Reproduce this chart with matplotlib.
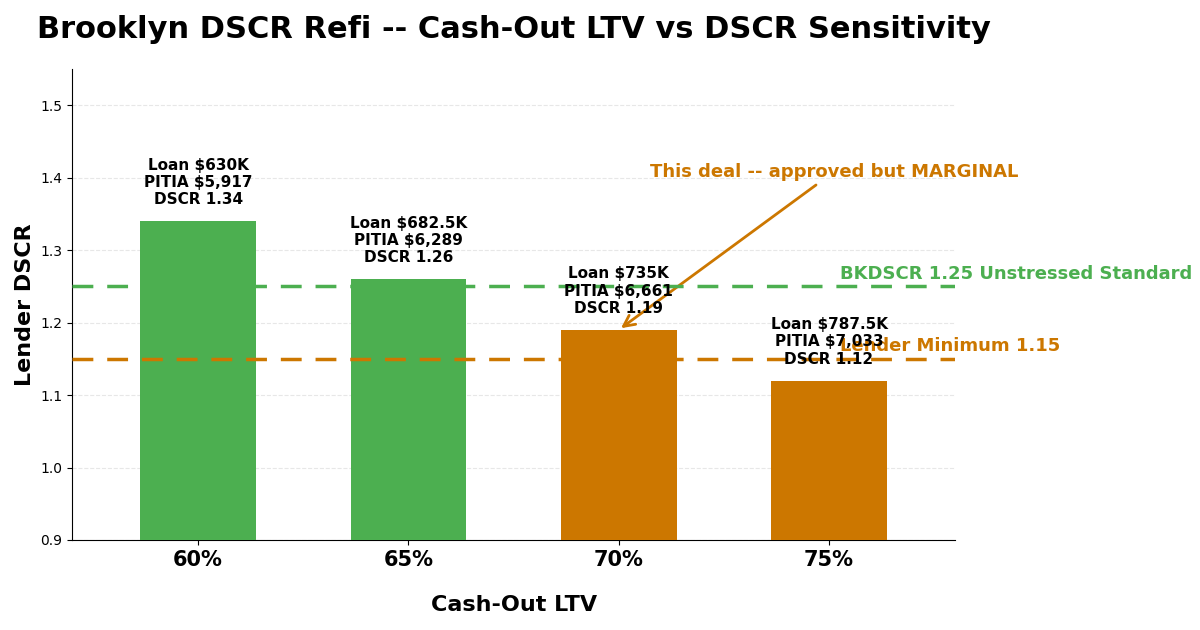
import matplotlib
matplotlib.use("Agg")
import matplotlib.pyplot as plt

ltv_labels = ["60%", "65%", "70%", "75%"]
dscr = [1.34, 1.26, 1.19, 1.12]
loans = ["$630K", "$682.5K", "$735K", "$787.5K"]
pitia = ["$5,917", "$6,289", "$6,661", "$7,033"]
bkdscr_std = 1.25
lender_min = 1.15

GREEN = "#4CAF50"
ORANGE = "#CC7700"
colors = [GREEN if d >= bkdscr_std else ORANGE for d in dscr]

fig = plt.figure(figsize=(12, 6.3), dpi=100)
ax = fig.add_axes([0.06, 0.1429, 0.736, 0.7476])

x = list(range(len(dscr)))
ax.bar(x, [d - 0.9 for d in dscr], bottom=0.9, width=0.55, color=colors, zorder=3)

for xi, d, l, p in zip(x, dscr, loans, pitia):
    ax.text(xi, d + 0.019, f"Loan {l}\nPITIA {p}\nDSCR {d:.2f}", ha="center", va="bottom",
            fontsize=11, fontweight="bold", zorder=5)

ax.axhline(bkdscr_std, color=GREEN, linestyle="--", linewidth=2.5, dashes=(6, 4), zorder=4)
ax.axhline(lender_min, color=ORANGE, linestyle="--", linewidth=2.5, dashes=(6, 4), zorder=4)
ax.text(3.05, bkdscr_std + 0.005, f"BKDSCR {bkdscr_std:.2f} Unstressed Standard", color=GREEN,
        fontsize=13, fontweight="bold", ha="left", va="bottom", clip_on=False)
ax.text(3.05, lender_min + 0.005, f"Lender Minimum {lender_min:.2f}", color=ORANGE,
        fontsize=13, fontweight="bold", ha="left", va="bottom", clip_on=False)

ax.annotate("This deal -- approved but MARGINAL", xy=(2, dscr[2]), xytext=(3.025, 1.396),
            ha="center", va="bottom", color=ORANGE, fontsize=13, fontweight="bold",
            arrowprops=dict(arrowstyle="->", color=ORANGE, lw=2, mutation_scale=20),
            annotation_clip=False)

ax.set_xlim(-0.6, 3.6)
ax.set_ylim(0.9, 1.55)
ax.set_yticks([0.9, 1.0, 1.1, 1.2, 1.3, 1.4, 1.5])
ax.set_xticks(x)
ax.set_xticklabels(ltv_labels, fontsize=15, fontweight="bold")
ax.tick_params(axis="y", labelsize=10)
ax.set_xlabel("Cash-Out LTV", fontsize=16, fontweight="bold", labelpad=18)
ax.set_ylabel("Lender DSCR", fontsize=16, fontweight="bold")
ax.set_title("Brooklyn DSCR Refi -- Cash-Out LTV vs DSCR Sensitivity", fontsize=22,
             fontweight="bold", pad=22)
ax.grid(axis="y", linestyle="--", color="#dddddd", alpha=0.7, zorder=0)
ax.spines["top"].set_visible(False)
ax.spines["right"].set_visible(False)

fig.savefig("out.png", dpi=100)
